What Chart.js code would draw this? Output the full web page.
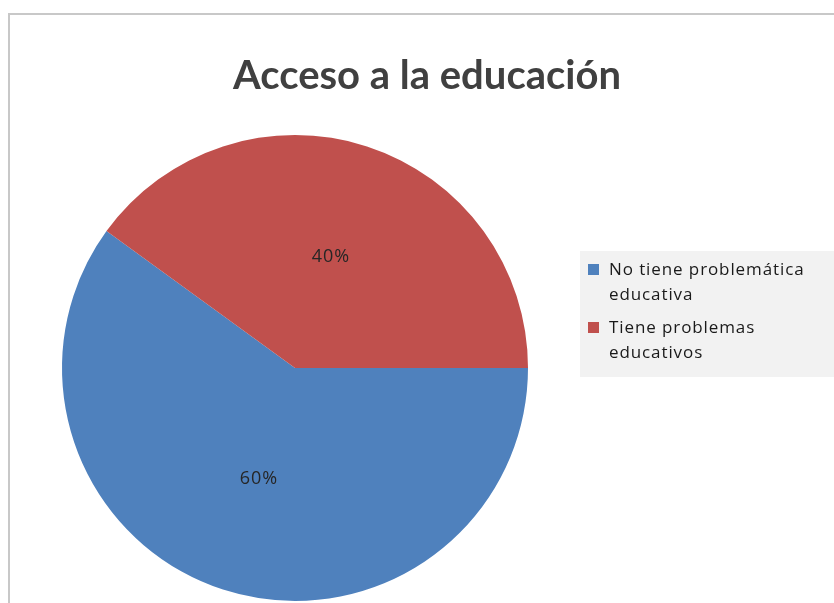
<!DOCTYPE html>
<html>
<head>
<meta charset="utf-8">
<script src="https://cdn.jsdelivr.net/npm/chart.js@4/dist/chart.umd.min.js"></script>
<style>
  html, body { margin: 0; padding: 0; background: #fff; }
  #wrap { width: 834px; height: 603px; }
</style>
</head>
<body>
<div id="wrap"><canvas id="myChart" width="834" height="603"></canvas></div>
<script>
// Data
var titleText = 'Acceso a la educación';
var categories = [
    ['No tiene problemática', 'educativa'],
    ['Tiene problemas', 'educativos']
];
var values = [60, 40];
var colors = ['#4f81bd', '#c0504d'];

// chart frame, title, slice percentages and the boxed legend on the right
var decorations = {
    id: 'decorations',
    beforeDraw: function(chart) {
        var ctx = chart.ctx;
        ctx.save();
        ctx.strokeStyle = '#c8c8c8';
        ctx.lineWidth = 2;
        ctx.strokeRect(9, 14, 900, 700);
        ctx.restore();
    },
    afterDraw: function(chart) {
        var ctx = chart.ctx;
        ctx.save();

        // title
        ctx.fillStyle = '#404040';
        ctx.font = 'bold 40px Lato, "Open Sans", sans-serif';
        ctx.textAlign = 'center';
        ctx.textBaseline = 'middle';
        ctx.fillText(titleText, 427, 76);

        // percentage labels
        var total = values.reduce(function(a, b) { return a + b; }, 0);
        var meta = chart.getDatasetMeta(0);
        ctx.font = '18px "Open Sans", sans-serif';
        ctx.letterSpacing = '1px';
        ctx.fillStyle = '#262626';
        meta.data.forEach(function(arc, i) {
            var p = arc.tooltipPosition();
            ctx.fillText(Math.round(values[i] / total * 100) + '%', p.x, p.y);
        });

        // legend
        ctx.letterSpacing = '0px';
        ctx.fillStyle = '#f2f2f2';
        ctx.fillRect(580, 251, 260, 126);
        ctx.textAlign = 'left';
        ctx.textBaseline = 'middle';
        ctx.font = '17px "Open Sans", sans-serif';
        ctx.letterSpacing = '0.9px';
        var y = 270;
        categories.forEach(function(lines, i) {
            ctx.fillStyle = colors[i];
            ctx.fillRect(588, y - 6, 11, 11);
            ctx.fillStyle = '#1a1a1a';
            lines.forEach(function(line, j) {
                ctx.fillText(line, 609, y + j * 25);
            });
            y += 58;
        });
        ctx.restore();
    }
};

var ctx = document.getElementById('myChart').getContext('2d');
var chart = new Chart(ctx, {
    type: 'pie',
    data: {
        labels: categories,
        datasets: [{
            data: values,
            backgroundColor: colors,
            borderWidth: 0
        }]
    },
    options: {
        responsive: false,
        animation: false,
        rotation: 90,
        layout: {
            padding: { left: 62, top: 135, right: 306, bottom: 2 }
        },
        plugins: {
            legend: { display: false },
            title: { display: false },
            tooltip: { enabled: false }
        }
    },
    plugins: [decorations]
});
</script>
</body>
</html>
